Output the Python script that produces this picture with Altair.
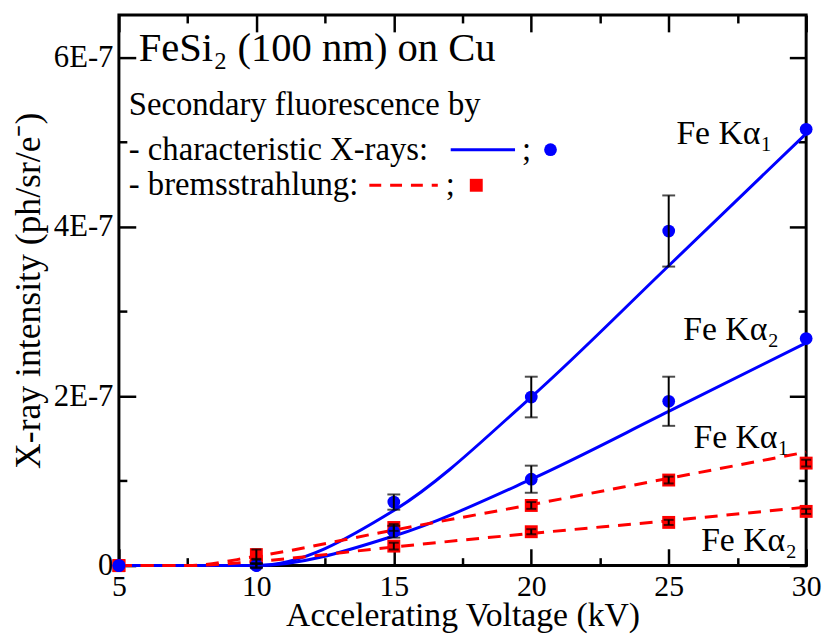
import altair as alt
import pandas as pd

# ---- data (intensities in units of 1E-7 ph/sr/e-) ----
kv_pts = [5, 10, 15, 20, 25, 30]
char_ka1 = [0, 0, 0.75, 1.99, 3.95, 5.15]
char_ka1_err = [0, 0.03, 0.09, 0.24, 0.42, 0]
char_ka2 = [0, 0, 0.40, 1.02, 1.94, 2.68]
char_ka2_err = [0, 0.02, 0.07, 0.16, 0.29, 0]
brem_ka1 = [0, 0.13, 0.45, 0.71, 1.01, 1.21]
brem_ka1_err = [0, 0.06, 0.04, 0.04, 0.04, 0.04]
brem_ka2 = [0, 0.05, 0.23, 0.40, 0.51, 0.64]
brem_ka2_err = [0, 0.03, 0.04, 0.03, 0.03, 0.03]

kv_char_line = [5, 10, 15, 20, 25, 30]
char_ka1_line = [0, 0, 0.65, 1.99, 3.54, 5.10]
char_ka2_line = [0, 0, 0.35, 1.02, 1.82, 2.63]
kv_brem_line = [5, 7.5, 10, 15, 20, 25, 30]
brem_ka1_line = [0, 0, 0.11, 0.42, 0.72, 1.03, 1.34]
brem_ka2_line = [0, 0, 0.05, 0.22, 0.38, 0.53, 0.69]

x_major = [5, 10, 15, 20, 25, 30]
x_minor = [7.5, 12.5, 17.5, 22.5, 27.5]
y_major = [0, 2, 4, 6]
y_minor = [1, 3, 5]

# annotations (data coordinates)
ann_text = ["Fe Kα₁", "Fe Kα₂", "Fe Kα₁", "Fe Kα₂"]
ann_x = [25.28, 25.53, 25.9, 26.18]
ann_y = [5.09, 2.78, 1.50, 0.29]

title_text = "FeSi₂ (100 nm) on Cu"
title_x, title_y = 5.72, 6.1
leg_text = ["Secondary fluorescence by", "- characteristic X-rays:", "- bremsstrahlung:"]
leg_x = [5.36, 5.36, 5.36]
leg_y = [5.44, 4.91, 4.49]
semi_x = [19.66, 16.89]
semi_y = [4.91, 4.49]

FONT = "Liberation Serif"
XDOM = [5, 30]
YDOM = [0, 6.5]

def X(field="kv", axis=None):
    return alt.X(field, type="quantitative", scale=alt.Scale(domain=XDOM, nice=False, zero=False),
                 axis=axis)

def Y(field="val", axis=None):
    return alt.Y(field, type="quantitative", scale=alt.Scale(domain=YDOM, nice=False),
                 axis=axis)

def line_df(kv, vals, name):
    return pd.DataFrame({"kv": kv, "val": vals, "series": name})

char_lines = pd.concat([line_df(kv_char_line, char_ka1_line, "a1"),
                        line_df(kv_char_line, char_ka2_line, "a2")])
brem_lines = pd.concat([line_df(kv_brem_line, brem_ka1_line, "b1"),
                        line_df(kv_brem_line, brem_ka2_line, "b2")])

def pts_df(vals, errs, name):
    return pd.DataFrame({"kv": kv_pts, "val": vals,
                         "lo": [v - e for v, e in zip(vals, errs)],
                         "hi": [v + e for v, e in zip(vals, errs)],
                         "err": errs, "series": name})

char_pts = pd.concat([pts_df(char_ka1, char_ka1_err, "a1"), pts_df(char_ka2, char_ka2_err, "a2")])
brem_pts = pd.concat([pts_df(brem_ka1, brem_ka1_err, "b1"), pts_df(brem_ka2, brem_ka2_err, "b2")])
char_err = char_pts[char_pts.err > 0]
brem_err = brem_pts[brem_pts.err > 0]

main_x_axis = alt.Axis(values=x_major, ticks=False, domain=False, grid=False, labelFlush=False,
                       labelFont=FONT, labelFontSize=30, labelColor="black", labelPadding=6,
                       title="Accelerating Voltage (kV)", titleFont=FONT, titleFontSize=34,
                       titleFontWeight="normal", titleColor="black",
                       titleBaseline="alphabetic", titleY=60)
main_y_axis = alt.Axis(values=y_major, ticks=False, domain=False, grid=False,
                       labelExpr="datum.value == 0 ? '0' : datum.value + 'E-7'",
                       labelFont=FONT, labelFontSize=31, labelColor="black", labelPadding=6,
                       title="X-ray intensity (ph/sr/e⁻)", titleFont=FONT, titleFontSize=36,
                       titleFontWeight="normal", titleColor="black", titlePadding=6)

base_char = alt.Chart(char_lines).mark_line(color="#0000ff", strokeWidth=3, interpolate="monotone").encode(
    x=X(axis=main_x_axis), y=Y(axis=main_y_axis), detail="series")
base_brem = alt.Chart(brem_lines).mark_line(color="#ff0000", strokeWidth=3, strokeDash=[13, 9],
                                            interpolate="monotone").encode(
    x=X(), y=Y(), detail="series")

brem_sq = alt.Chart(brem_pts).mark_point(shape="square", filled=True, color="#ff0000", size=170, opacity=1).encode(
    x=X(), y=Y())
char_dot = alt.Chart(char_pts).mark_point(shape="circle", filled=True, color="#0000ff", size=165, opacity=1).encode(
    x=X(), y=Y())

def errbars(df, cap):
    r = alt.Chart(df).mark_rule(color="black", strokeWidth=2).encode(x=X(), y=Y("lo"), y2="hi")
    t1 = alt.Chart(df).mark_tick(color="black", orient="horizontal", size=cap, thickness=2).encode(x=X(), y=Y("lo"))
    t2 = alt.Chart(df).mark_tick(color="black", orient="horizontal", size=cap, thickness=2).encode(x=X(), y=Y("hi"))
    return [r, t1, t2]

def text_layer(xs, ys, ts, size):
    df = pd.DataFrame({"kv": xs, "val": ys, "t": ts})
    return alt.Chart(df).mark_text(font=FONT, fontSize=size, align="left", baseline="middle",
                                   color="black").encode(x=X(), y=Y(), text="t")

ann = text_layer(ann_x, ann_y, ann_text, 34)
title = text_layer([title_x], [title_y], [title_text], 41)
leg = text_layer(leg_x, leg_y, leg_text, 33)
semi = text_layer(semi_x, semi_y, [";", ";"], 33)

leg_char_line = alt.Chart(pd.DataFrame({"kv": [17.07], "kv2": [19.41], "val": [4.91]})).mark_rule(
    color="#0000ff", strokeWidth=3).encode(x=X(), x2="kv2", y=Y())
leg_brem_line = alt.Chart(pd.DataFrame({"kv": [14.11], "kv2": [16.6], "val": [4.49]})).mark_rule(
    color="#ff0000", strokeWidth=3, strokeDash=[12, 9]).encode(x=X(), x2="kv2", y=Y())
leg_dot = alt.Chart(pd.DataFrame({"kv": [20.7], "val": [4.91]})).mark_point(
    shape="circle", filled=True, color="#0000ff", size=165, opacity=1).encode(x=X(), y=Y())
leg_sq = alt.Chart(pd.DataFrame({"kv": [18.0], "val": [4.49]})).mark_point(
    shape="square", filled=True, color="#ff0000", size=170, opacity=1).encode(x=X(), y=Y())

def tick_axis(orient, values, size):
    return alt.Axis(orient=orient, values=values, tickSize=size, offset=-size, domain=False,
                    labels=False, title=None, grid=False, ticks=True, tickWidth=2.5, tickColor="black")

tick_layers = []
for (xo, yo) in [("bottom", "left"), ("top", "right")]:
    for xv, yv, sz in [(x_major, y_major, 17), (x_minor, y_minor, 8)]:
        tick_layers.append(
            alt.Chart(char_pts).mark_point(opacity=0, size=1).encode(
                x=X(axis=tick_axis(xo, xv, sz)), y=Y(axis=tick_axis(yo, yv, sz))))

layers = [base_char, base_brem, brem_sq, char_dot] + errbars(brem_err, 10) + errbars(char_err, 13) + \
         [ann, title, leg, semi, leg_char_line, leg_brem_line, leg_dot, leg_sq] + tick_layers

chart = alt.layer(*layers).resolve_axis(x="independent", y="independent").properties(
    width=694, height=556, autosize="none",
    padding={"left": 112, "top": 4, "right": 16, "bottom": 68},
).configure(font=FONT).configure_axis(labelFont=FONT, titleFont=FONT).configure_view(
    stroke="black", strokeWidth=3)

chart.save("out.html", embed_options={"renderer": "svg", "actions": False})
